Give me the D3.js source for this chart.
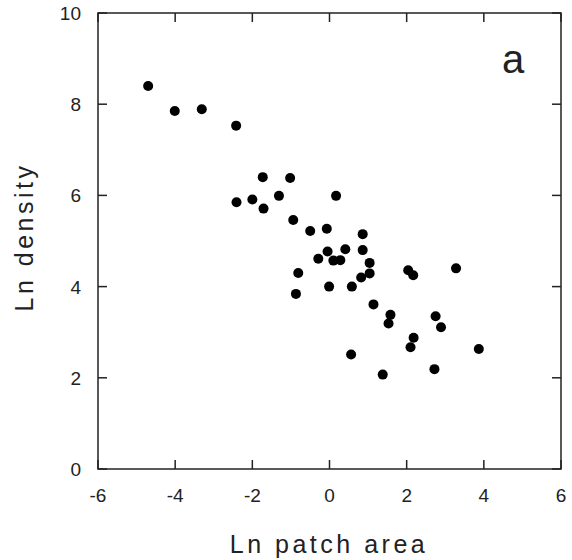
<!DOCTYPE html>
<html><head><meta charset="utf-8">
<script src="https://cdn.jsdelivr.net/npm/d3@7"></script>
<style>body{margin:0;background:#fff}svg{display:block}text{font-family:"Liberation Sans",Arial,sans-serif;fill:#222}</style>
</head><body><svg id="c" width="572" height="560"></svg>
<script>
const xVals=[-4.70,-4.01,-3.31,-2.42,-1.73,-1.02,-1.31,0.17,-2.41,-2.00,-1.71,-0.94,-0.50,-0.07,-0.05,-0.29,0.10,0.28,-0.81,-0.87,-0.01,0.86,0.86,0.41,1.04,1.04,0.82,0.58,2.04,2.17,3.28,1.14,1.58,1.53,2.75,2.89,2.18,2.10,3.87,0.56,2.72,1.38];
const yVals=[8.40,7.85,7.89,7.53,6.40,6.38,5.99,5.99,5.85,5.91,5.71,5.46,5.22,5.27,4.77,4.61,4.57,4.58,4.30,3.84,4.00,5.15,4.80,4.82,4.52,4.29,4.20,4.00,4.36,4.25,4.40,3.61,3.38,3.19,3.35,3.11,2.88,2.67,2.63,2.51,2.19,2.07];
const xTicks=[-6,-4,-2,0,2,4,6];
const yTicks=[0,2,4,6,8,10];
const xTitle="Ln patch area", yTitle="Ln density", panel="a";

const svg=d3.select("#c");
const L=98,R=561,T=13,B=469;
const x=d3.scaleLinear().domain([-6,6]).range([L,R]);
const y=d3.scaleLinear().domain([0,10]).range([B,T]);
const tl=9;
const ax=svg.append("g").attr("stroke","#222").attr("stroke-width",1.5).attr("fill","none");
ax.append("rect").attr("x",L).attr("y",T).attr("width",R-L).attr("height",B-T);
xTicks.forEach(t=>{
  ax.append("line").attr("x1",x(t)).attr("x2",x(t)).attr("y1",B).attr("y2",B-tl);
  ax.append("line").attr("x1",x(t)).attr("x2",x(t)).attr("y1",T).attr("y2",T+tl);
});
yTicks.forEach(t=>{
  ax.append("line").attr("y1",y(t)).attr("y2",y(t)).attr("x1",L).attr("x2",L+tl);
  ax.append("line").attr("y1",y(t)).attr("y2",y(t)).attr("x1",R).attr("x2",R-tl);
});
svg.append("g").selectAll("text").data(xTicks).join("text")
  .attr("x",d=>x(d)).attr("y",502).attr("text-anchor","middle").attr("font-size",19).text(d=>d);
svg.append("g").selectAll("text").data(yTicks).join("text")
  .attr("x",81).attr("y",d=>y(d)+7).attr("text-anchor","end").attr("font-size",19).text(d=>d);
svg.append("g").selectAll("circle").data(xVals.map((v,i)=>[v,yVals[i]])).join("circle")
  .attr("cx",d=>x(d[0])).attr("cy",d=>y(d[1])).attr("r",5).attr("fill","#000");
svg.append("text").attr("x",329).attr("y",553).attr("text-anchor","middle").attr("font-size",25)
  .attr("letter-spacing",3.5).text(xTitle);
svg.append("text").attr("transform","translate(33,237) rotate(-90)").attr("text-anchor","middle")
  .attr("font-size",25).attr("letter-spacing",3.5).text(yTitle);
svg.append("text").attr("x",513).attr("y",73).attr("text-anchor","middle").attr("font-size",40).text(panel);
</script></body></html>
